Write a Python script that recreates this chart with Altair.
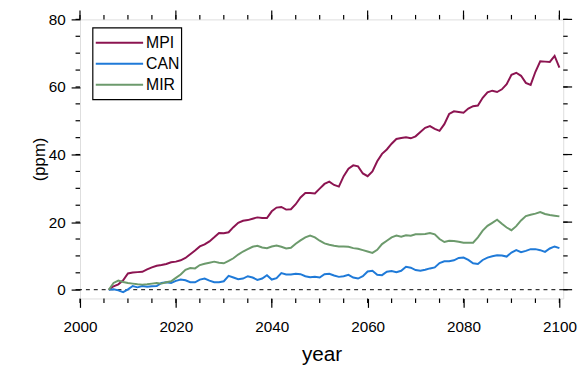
import altair as alt
import pandas as pd

years = list(range(2006, 2101))

mpi = [0.0, 1.0, 1.6, 2.8, 4.8, 5.1, 5.2, 5.3, 6.0, 6.6,
       7.1, 7.3, 7.6, 8.1, 8.3, 8.7, 9.4, 10.5, 11.6, 12.8,
       13.4, 14.3, 15.5, 16.8, 16.7, 17.0, 18.5, 19.8, 20.4, 20.6,
       21.0, 21.4, 21.2, 21.2, 23.2, 24.3, 24.5, 23.7, 23.8, 25.3,
       27.3, 28.6, 28.6, 28.5, 29.9, 31.3, 32.0, 31.0, 30.5, 33.6,
       35.8, 36.8, 36.5, 34.4, 33.6, 35.0, 38.0, 40.2, 41.5, 43.2,
       44.6, 44.9, 45.1, 44.8, 45.4, 46.7, 47.9, 48.4, 47.6, 47.0,
       49.0, 52.0, 52.8, 52.6, 52.4, 53.6, 54.3, 54.5, 56.8, 58.4,
       58.9, 58.5, 59.3, 60.8, 63.6, 64.2, 63.3, 61.2, 60.6, 64.5,
       67.6, 67.5, 67.4, 69.2, 65.7]

can = [0.0, 0.1, -0.2, -0.7, 0.1, 1.1, 0.7, 1.1, 0.9, 1.0,
       1.1, 2.0, 2.2, 2.0, 2.6, 3.0, 2.8, 2.2, 2.2, 3.0,
       3.3, 2.7, 2.2, 2.2, 2.5, 4.1, 3.6, 3.1, 3.3, 4.0,
       3.6, 2.9, 3.3, 4.3, 3.0, 3.4, 4.9, 4.5, 4.5, 4.7,
       4.6, 4.0, 3.7, 3.8, 3.6, 4.6, 4.7, 4.2, 3.8, 4.0,
       4.4, 3.6, 3.3, 4.0, 5.4, 5.6, 4.4, 4.3, 5.3, 5.5,
       5.2, 5.6, 6.8, 6.5, 5.8, 5.6, 5.9, 6.3, 6.6, 7.9,
       8.4, 8.4, 8.7, 9.4, 9.5, 8.8, 7.8, 7.6, 8.8, 9.5,
       9.9, 10.2, 10.1, 9.8, 11.0, 11.7, 11.1, 11.5, 12.0, 12.0,
       11.7, 11.2, 12.2, 12.8, 12.3]

mir = [0.0, 2.0, 2.7, 2.3, 2.0, 1.8, 1.6, 1.5, 1.6, 1.8,
       2.0, 1.8, 2.2, 2.5, 3.5, 4.5, 5.9, 6.4, 6.3, 7.3,
       7.7, 8.0, 8.3, 8.0, 7.8, 8.5, 9.3, 10.4, 11.3, 12.0,
       12.7, 13.0, 12.5, 12.3, 12.8, 13.1, 12.7, 12.2, 12.4, 13.6,
       14.6, 15.5, 16.0, 15.5, 14.5, 13.7, 13.3, 13.0, 12.8, 12.8,
       12.7, 12.3, 12.1, 11.7, 11.3, 10.9, 11.8, 13.5, 14.5, 15.5,
       16.0, 15.7, 16.1, 16.0, 16.4, 16.4, 16.5, 16.8, 16.4, 15.0,
       14.1, 14.5, 14.4, 14.2, 13.9, 13.9, 13.9, 15.5, 17.5, 18.9,
       19.8, 20.7, 19.5, 18.4, 17.6, 18.8, 20.5, 21.8, 22.2, 22.5,
       23.0, 22.4, 22.1, 21.9, 21.7]

series_names = ["MPI", "CAN", "MIR"]
series_colors = ["#8c1451", "#1f7ad8", "#6c9a6c"]

x_major = [2000, 2020, 2040, 2060, 2080, 2100]
x_minor = list(range(2000, 2101, 5))
y_major = [0, 20, 40, 60, 80]
y_minor = list(range(0, 81, 5))

X_DOM = [2000, 2100.8]
Y_DOM = [-2.6, 80]
W, H = 490, 283
FONT = "Liberation Sans"

rows = []
for name, vals in zip(series_names, [mpi, can, mir]):
    for yr, v in zip(years, vals):
        rows.append({"year": yr, "value": v, "model": name})
df = pd.DataFrame(rows)

xs = alt.Scale(domain=X_DOM, nice=False, zero=False)
ys = alt.Scale(domain=Y_DOM, nice=False, zero=False)
cs = alt.Scale(domain=series_names, range=series_colors)

lines = alt.Chart(df).mark_line(strokeWidth=2).encode(
    x=alt.X("year:Q", scale=xs,
            axis=alt.Axis(values=x_major, title="year", format="d",
                          tickSize=9, tickWidth=1.2, tickColor="black",
                          labelPadding=12, labelFontSize=15.5, labelFont=FONT,
                          labelColor="black", labelFlush=False,
                          titleFontSize=21, titleFont=FONT,
                          titleFontWeight="normal", titleColor="black",
                          titlePadding=9, domain=False, grid=False)),
    y=alt.Y("value:Q", scale=ys,
            axis=alt.Axis(values=y_major, title="(ppm)",
                          tickSize=9, tickWidth=1.2, tickColor="black",
                          labelPadding=6, labelFontSize=15.5, labelFont=FONT,
                          labelColor="black", labelFlush=False,
                          titleFontSize=17, titleFont=FONT,
                          titleFontWeight="normal", titleColor="black",
                          titlePadding=0, domain=False, grid=False)),
    color=alt.Color("model:N", scale=cs, legend=None),
)

zero_df = pd.DataFrame({"v": [0]})
zero_line = alt.Chart(zero_df).mark_rule(color="black", strokeDash=[4, 4], strokeWidth=1).encode(
    y=alt.Y("v:Q", scale=ys)
)

xmin_df = pd.DataFrame({"t": x_minor})
xmaj_df = pd.DataFrame({"t": x_major})
ymin_df = pd.DataFrame({"t": y_minor})
ymaj_df = pd.DataFrame({"t": y_major})

def xticks(data, y1, y2):
    return alt.Chart(data).mark_rule(color="black", strokeWidth=1.2).encode(
        x=alt.X("t:Q", scale=xs), y=alt.value(y1), y2=alt.value(y2))

def yticks(data, x1, x2):
    return alt.Chart(data).mark_rule(color="black", strokeWidth=1.2).encode(
        y=alt.Y("t:Q", scale=ys), x=alt.value(x1), x2=alt.value(x2))

ticks = [
    xticks(xmin_df, H, H + 4.5),
    xticks(xmin_df, 0, -4.5),
    xticks(xmaj_df, 0, -9),
    yticks(ymin_df, 0, -4.5),
    yticks(ymin_df, W, W + 4.5),
    yticks(ymaj_df, W, W + 9),
]

main = alt.layer(zero_line, *ticks, lines)

# legend (drawn as marks, inside the plot area, upper left)
leg_df = pd.DataFrame({"model": series_names})
box_df = pd.DataFrame({"b": [1]})
leg_y = alt.Y("model:N", sort=series_names, axis=None,
              scale=alt.Scale(type="point", domain=series_names, range=[23.7, 66.3], padding=0))
leg_box = alt.Chart(box_df).mark_rect(fill="white", stroke="black", strokeWidth=1.2).encode(
    x=alt.value(13), x2=alt.value(103), y=alt.value(8.7), y2=alt.value(81.3))
leg_lines = alt.Chart(leg_df).mark_rule(strokeWidth=2).encode(
    x=alt.value(16), x2=alt.value(64), y=leg_y,
    color=alt.Color("model:N", scale=cs, legend=None))
leg_text = alt.Chart(leg_df).mark_text(align="left", baseline="middle", fontSize=16,
                                       font=FONT, color="black").encode(
    x=alt.value(67), y=leg_y, text="model:N")
legend = alt.layer(leg_box, leg_lines, leg_text)

chart = alt.layer(main, legend).resolve_scale(y="independent").properties(
    width=W, height=H,
    autosize=alt.AutoSizeParams(type="none"),
    padding={"left": 73, "top": 9, "right": 17, "bottom": 72},
).configure_view(stroke="black", strokeWidth=1.5).configure(background="white")

chart.save("out.html", embed_options={"renderer": "svg", "actions": False})
